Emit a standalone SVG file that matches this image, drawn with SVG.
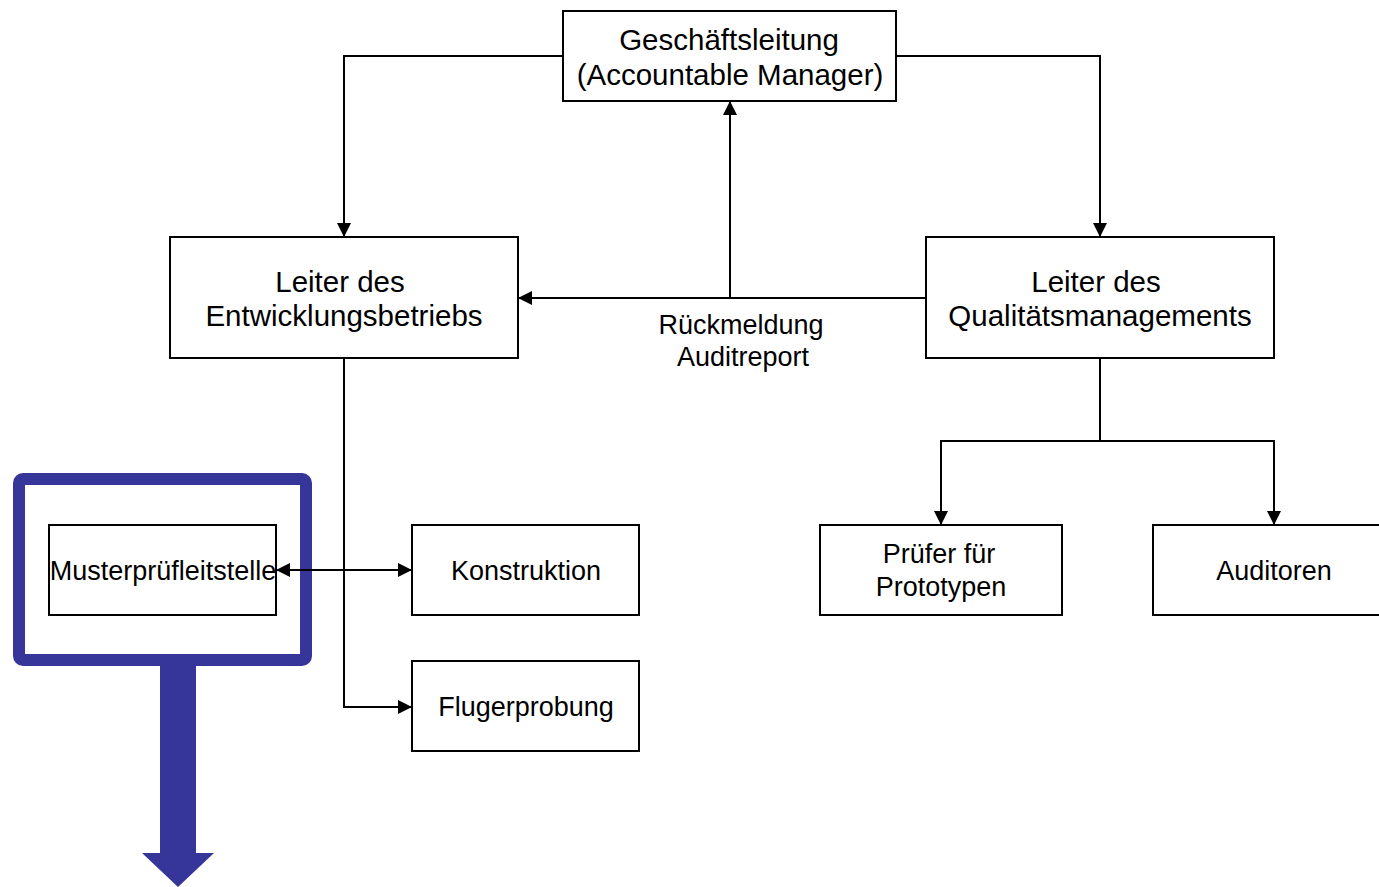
<svg xmlns="http://www.w3.org/2000/svg" width="1379" height="887" viewBox="0 0 1379 887">
  <defs>
    <marker id="arrow" viewBox="0 0 14 14" refX="14" refY="7" markerWidth="14" markerHeight="14" markerUnits="userSpaceOnUse" orient="auto-start-reverse">
      <path d="M0,0 L14,7 L0,14 Z" fill="#000"/>
    </marker>
  </defs>
  <style>
    .box { fill: #fff; stroke: #000; stroke-width: 2; }
    .lbl { font-family: "Liberation Sans", Arial, sans-serif; fill: #000; text-anchor: middle; }
    .big { font-size: 29.5px; }
    .small { font-size: 27px; }
    .wire { fill: none; stroke: #000; stroke-width: 2; }
  </style>
  <rect width="1379" height="887" fill="#fff"/>

  <!-- highlight frame and pointer -->
  <g id="highlight">
    <rect x="19" y="479" width="287" height="181" rx="4" fill="none" stroke="#36369a" stroke-width="12"/>
    <path d="M160,666 L196,666 L196,853 L214,853 L178,887 L142,853 L160,853 Z" fill="#36369a"/>
  </g>

  <g id="connectors">
    <path class="wire" d="M563,56 H344 V237" marker-end="url(#arrow)"/>
    <path class="wire" d="M896,56 H1100 V237" marker-end="url(#arrow)"/>
    <path class="wire" d="M926,298 H518" marker-end="url(#arrow)"/>
    <path class="wire" d="M730,298 V101" marker-end="url(#arrow)"/>
    <path class="wire" d="M344,358 V707 H412" marker-end="url(#arrow)"/>
    <path class="wire" d="M276,570 H412" marker-start="url(#arrow)" marker-end="url(#arrow)"/>
    <path class="wire" d="M1100,358 V441"/>
    <path class="wire" d="M1100,441 H941 V525" marker-end="url(#arrow)"/>
    <path class="wire" d="M1100,441 H1274 V525" marker-end="url(#arrow)"/>
    <text class="lbl small" x="741" y="334">Rückmeldung</text>
    <text class="lbl small" x="743" y="366">Auditreport</text>
  </g>

  <g id="geschaeftsleitung">
    <rect class="box" x="563" y="11" width="333" height="90"/>
    <text class="lbl big" x="729" y="50">Geschäftsleitung</text>
    <text class="lbl big" x="730" y="85">(Accountable Manager)</text>
  </g>

  <g id="leiter-entwicklung">
    <rect class="box" x="170" y="237" width="348" height="121"/>
    <text class="lbl big" x="340" y="292">Leiter des</text>
    <text class="lbl big" x="344" y="326">Entwicklungsbetriebs</text>
  </g>

  <g id="leiter-qm">
    <rect class="box" x="926" y="237" width="348" height="121"/>
    <text class="lbl big" x="1096" y="292">Leiter des</text>
    <text class="lbl big" x="1100" y="326">Qualitätsmanagements</text>
  </g>

  <g id="musterpruefleitstelle">
    <rect class="box" x="49" y="525" width="227" height="90"/>
    <text class="lbl small" x="163" y="580">Musterprüfleitstelle</text>
  </g>

  <g id="konstruktion">
    <rect class="box" x="412" y="525" width="227" height="90"/>
    <text class="lbl small" x="526" y="580">Konstruktion</text>
  </g>

  <g id="flugerprobung">
    <rect class="box" x="412" y="661" width="227" height="90"/>
    <text class="lbl small" x="526" y="716">Flugerprobung</text>
  </g>

  <g id="pruefer">
    <rect class="box" x="820" y="525" width="242" height="90"/>
    <text class="lbl small" x="939" y="563">Prüfer für</text>
    <text class="lbl small" x="941" y="596">Prototypen</text>
  </g>

  <g id="auditoren">
    <rect class="box" x="1153" y="525" width="240" height="90"/>
    <text class="lbl small" x="1274" y="580">Auditoren</text>
  </g>
</svg>
